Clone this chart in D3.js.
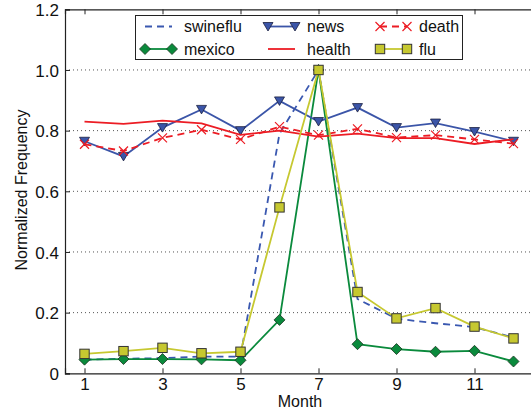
<!DOCTYPE html>
<html>
<head>
<meta charset="utf-8">
<script src="https://cdn.jsdelivr.net/npm/d3@7"></script>
<style>
body{margin:0;background:#fff;}
svg text{font-family:"Liberation Sans",Arial,sans-serif;fill:#111;}
</style>
</head>
<body>
<div id="chart"></div>
<script>
var months = [1,2,3,4,5,6,7,8,9,10,11,12];
var swineflu = [0.045,0.048,0.05,0.055,0.055,0.79,1.0,0.245,0.18,0.165,0.152,0.118];
var mexico = [0.045,0.047,0.047,0.046,0.043,0.176,1.0,0.096,0.08,0.071,0.074,0.039];
var news = [0.765,0.715,0.81,0.87,0.80,0.898,0.83,0.876,0.81,0.825,0.797,0.765];
var health = [0.83,0.822,0.833,0.824,0.786,0.80,0.78,0.79,0.775,0.775,0.756,0.772];
var death = [0.755,0.733,0.776,0.803,0.771,0.813,0.785,0.806,0.777,0.785,0.771,0.757];
var flu = [0.064,0.073,0.084,0.066,0.071,0.547,1.0,0.268,0.181,0.215,0.154,0.115];
var yTicks = [0, 0.2, 0.4, 0.6, 0.8, 1.0, 1.2];
var xTicks = [1,3,5,7,9,11];

var W = 531, H = 415;
var svg = d3.select("#chart").append("svg").attr("width",W).attr("height",H);

var x = d3.scaleLinear().domain([0.5,12.5]).range([65,533]);
var y = d3.scaleLinear().domain([0,1.2]).range([373.3,9.3]);

// dotted grid
svg.selectAll(".grid").data(yTicks.slice(1,6)).enter().append("line")
    .attr("x1",x(0.5)).attr("x2",W)
    .attr("y1",function(d){return y(d);}).attr("y2",function(d){return y(d);})
    .style("stroke","#555").style("stroke-width",1).style("stroke-dasharray","1,3");

// axes
var yAxis = svg.append("g").attr("transform","translate("+x(0.5)+",0)")
    .call(d3.axisLeft(y).tickValues(yTicks).tickSize(-5).tickPadding(6)
        .tickFormat(function(d){return d===0 ? "0" : d3.format(".1f")(d);}));
var xAxis = svg.append("g").attr("transform","translate(0,"+y(0)+")")
    .call(d3.axisBottom(x).tickValues(xTicks).tickSize(-5).tickPadding(5).tickFormat(d3.format("d")));
var xTop = svg.append("g").attr("transform","translate(0,"+y(1.2)+")")
    .call(d3.axisTop(x).tickValues(xTicks).tickSize(-5).tickFormat(""));
[yAxis,xAxis,xTop].forEach(function(a){
    a.select(".domain").style("stroke","#222").style("stroke-width",1.2);
    a.selectAll(".tick line").style("stroke","#222");
    a.selectAll("text").style("font-size","17px").style("fill","#111");
});
yAxis.selectAll(".tick text").attr("dy","0.36em");

svg.append("text").attr("x",300).attr("y",407).attr("text-anchor","middle")
    .style("font-size","16px").text("Month");
svg.append("text").attr("transform","translate(27,190) rotate(-90)").attr("text-anchor","middle")
    .style("font-size","16px").text("Normalized Frequency");

var line = d3.line().x(function(d){return x(d[0]);}).y(function(d){return y(d[1]);});
function pts(vals){ return months.map(function(m,i){return [m,vals[i]];}); }

var series = [
    {name:"swineflu", vals:swineflu, color:"#3a58b0", dash:"7,5", marker:null},
    {name:"mexico", vals:mexico, color:"#0a8a3c", dash:null, marker:"diamond"},
    {name:"news", vals:news, color:"#3b55a8", dash:null, marker:"triangle"},
    {name:"health", vals:health, color:"#ec1c24", dash:null, marker:null},
    {name:"death", vals:death, color:"#ec1c24", dash:"7,5", marker:"x"},
    {name:"flu", vals:flu, color:"#c6c830", dash:null, marker:"square"}
];

function drawMarker(g, type, color, cx, cy){
    if(type==="diamond"){
        g.append("path").attr("d","M"+cx+","+(cy-5.5)+"L"+(cx+5.5)+","+cy+"L"+cx+","+(cy+5.5)+"L"+(cx-5.5)+","+cy+"Z")
            .style("fill",color).style("stroke","#1a3320").style("stroke-width",0.8);
    } else if(type==="triangle"){
        g.append("path").attr("d","M"+(cx-5)+","+(cy-4)+"L"+(cx+5)+","+(cy-4)+"L"+cx+","+(cy+4.5)+"Z")
            .style("fill",color).style("stroke","#1a2040").style("stroke-width",0.8);
    } else if(type==="square"){
        g.append("rect").attr("x",cx-4.7).attr("y",cy-4.7).attr("width",9.4).attr("height",9.4)
            .style("fill",color).style("stroke","#333").style("stroke-width",1);
    } else if(type==="x"){
        g.append("path").attr("d","M"+(cx-4.5)+","+(cy-4.5)+"L"+(cx+4.5)+","+(cy+4.5)+"M"+(cx-4.5)+","+(cy+4.5)+"L"+(cx+4.5)+","+(cy-4.5))
            .style("stroke",color).style("stroke-width",1.2).style("fill","none");
    }
}

series.forEach(function(s){
    var g = svg.append("g").attr("class","series");
    g.append("path").datum(pts(s.vals)).attr("d",line)
        .style("fill","none").style("stroke",s.color).style("stroke-width",1.8)
        .style("stroke-dasharray",s.dash);
    if(s.marker){
        pts(s.vals).forEach(function(p){ drawMarker(g, s.marker, s.color, x(p[0]), y(p[1])); });
    }
});

// legend
var leg = svg.append("g");
leg.append("rect").attr("x",135.5).attr("y",15.5).attr("width",327).attr("height",44)
    .style("fill","#fff").style("stroke","#222").style("stroke-width",1);
var legPos = [[145,26.5],[145,49],[268,26.5],[268,49],[380,26.5],[380,49]];
series.forEach(function(s,i){
    var lx = legPos[i][0], ly = legPos[i][1];
    var g = leg.append("g");
    g.append("line").attr("x1",lx).attr("x2",lx+27).attr("y1",ly).attr("y2",ly)
        .style("stroke",s.color).style("stroke-width",1.8).style("stroke-dasharray",s.dash);
    if(s.marker){ drawMarker(g,s.marker,s.color,lx,ly); drawMarker(g,s.marker,s.color,lx+27,ly); }
    g.append("text").attr("x",lx+39).attr("y",ly).attr("dy","0.35em")
        .style("font-size","16px").text(s.name);
});
</script>
</body>
</html>
